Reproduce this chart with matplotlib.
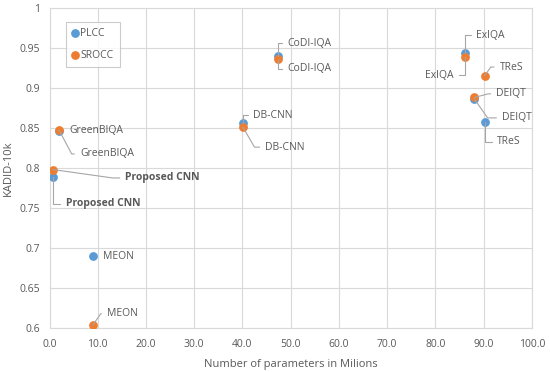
import matplotlib
matplotlib.use('Agg')
import matplotlib.pyplot as plt

# Donnees
models = ['Proposed CNN', 'GreenBIQA', 'MEON', 'DB-CNN', 'CoDI-IQA', 'ExIQA', 'TReS', 'DEIQT']
params = [0.7, 2.0, 9.0, 40.1, 47.3, 86.2, 90.2, 88.1]
plcc = [0.789, 0.846, 0.690, 0.856, 0.940, 0.943, 0.858, 0.886]
srocc = [0.798, 0.847, 0.604, 0.851, 0.936, 0.938, 0.915, 0.888]

BLUE = '#5B9BD5'
ORANGE = '#ED7D31'
GREY = '#595959'
LINE = '#A6A6A6'

# positions des etiquettes (x, y, ha, angle de la ligne au point ou None)
plcc_labels = {
    'Proposed CNN': (3.4, 0.755, 'left', 90),
    'GreenBIQA': None,
    'MEON': (11.1, 0.690, 'left', None),
    'DB-CNN': (42.2, 0.866, 'left', 90),
    'CoDI-IQA': (49.3, 0.956, 'left', 90),
    'ExIQA': (88.5, 0.966, 'left', 90),
    'TReS': (92.8, 0.8325, 'left', 90),
    'DEIQT': (93.8, 0.8625, 'left', -55),
}
srocc_labels = {
    'Proposed CNN': (15.7, 0.7875, 'left', -8),
    'GreenBIQA': [(4.2, 0.847, 'left', None), (6.3, 0.8175, 'left', -62)],
    'MEON': (11.9, 0.618, 'left', 55),
    'DB-CNN': (44.7, 0.826, 'left', -60),
    'CoDI-IQA': (49.3, 0.924, 'left', 90),
    'ExIQA': (83.8, 0.916, 'right', 90),
    'TReS': (93.3, 0.926, 'left', 55),
    'DEIQT': (92.6, 0.8925, 'left', 15),
}

plt.rcParams['font.family'] = ['Open Sans', 'DejaVu Sans']

fig = plt.figure(figsize=(5.5, 3.72), dpi=100)
ax = fig.add_axes([0.09, 0.118, 0.877, 0.861])

ax.scatter(params, plcc, s=28, color=BLUE, zorder=3, label='PLCC')
ax.scatter(params, srocc, s=28, color=ORANGE, zorder=4, label='SROCC')


def put_label(name, x0, y0, spec):
    tx, ty, ha, ang = spec
    bold = 'bold' if name == 'Proposed CNN' else 'normal'
    if ang is None:
        ax.text(tx, ty, name, ha=ha, va='center', fontsize=7.5,
                color=GREY, fontweight=bold, zorder=5)
        return
    rel = (0, 0.5) if ha == 'left' else (1, 0.5)
    ax.annotate(name, xy=(x0, y0), xytext=(tx, ty), ha=ha, va='center',
                fontsize=7.5, color=GREY, fontweight=bold, zorder=5,
                arrowprops=dict(arrowstyle='-', color=LINE, lw=0.8,
                                shrinkA=2, shrinkB=0, relpos=rel,
                                connectionstyle='angle,angleA=0,angleB=%d,rad=0' % ang))


for i, m in enumerate(models):
    spec = plcc_labels[m]
    if spec is not None:
        put_label(m, params[i], plcc[i], spec)
    spec = srocc_labels[m]
    specs = spec if isinstance(spec, list) else [spec]
    for s in specs:
        put_label(m, params[i], srocc[i], s)

ax.set_xlim(0, 100)
ax.set_ylim(0.6, 1.0)
ax.set_xticks(range(0, 101, 10))
ax.set_xticklabels(['%.1f' % v for v in range(0, 101, 10)])
yt = [0.6, 0.65, 0.7, 0.75, 0.8, 0.85, 0.9, 0.95, 1.0]
ax.set_yticks(yt)
ax.set_yticklabels(['0.6', '0.65', '0.7', '0.75', '0.8', '0.85', '0.9', '0.95', '1'])
ax.tick_params(axis='y', length=0, labelsize=7.5, labelcolor=GREY, pad=7)
ax.tick_params(axis='x', length=0, labelsize=7.5, labelcolor=GREY, pad=8)
ax.grid(True, color='#D9D9D9', lw=0.8)
ax.set_axisbelow(True)
for sp in ax.spines.values():
    sp.set_color('#D9D9D9')
    sp.set_linewidth(0.8)

ax.set_xlabel('Number of parameters in Milions', fontsize=8, color=GREY, labelpad=6)
ax.set_ylabel('KADID-10k', fontsize=8, color=GREY, labelpad=4)

leg = ax.legend(loc='upper left', bbox_to_anchor=(0.034, 0.956), borderaxespad=0,
                fontsize=7.5, frameon=True, fancybox=False, handletextpad=0.2,
                borderpad=0.6, labelspacing=1.0, handlelength=0.6,
                scatterpoints=1, markerscale=1.0)
leg.get_frame().set_edgecolor('#BFBFBF')
leg.get_frame().set_linewidth(0.8)
for t in leg.get_texts():
    t.set_color(GREY)

fig.savefig('out.png', dpi=100)
